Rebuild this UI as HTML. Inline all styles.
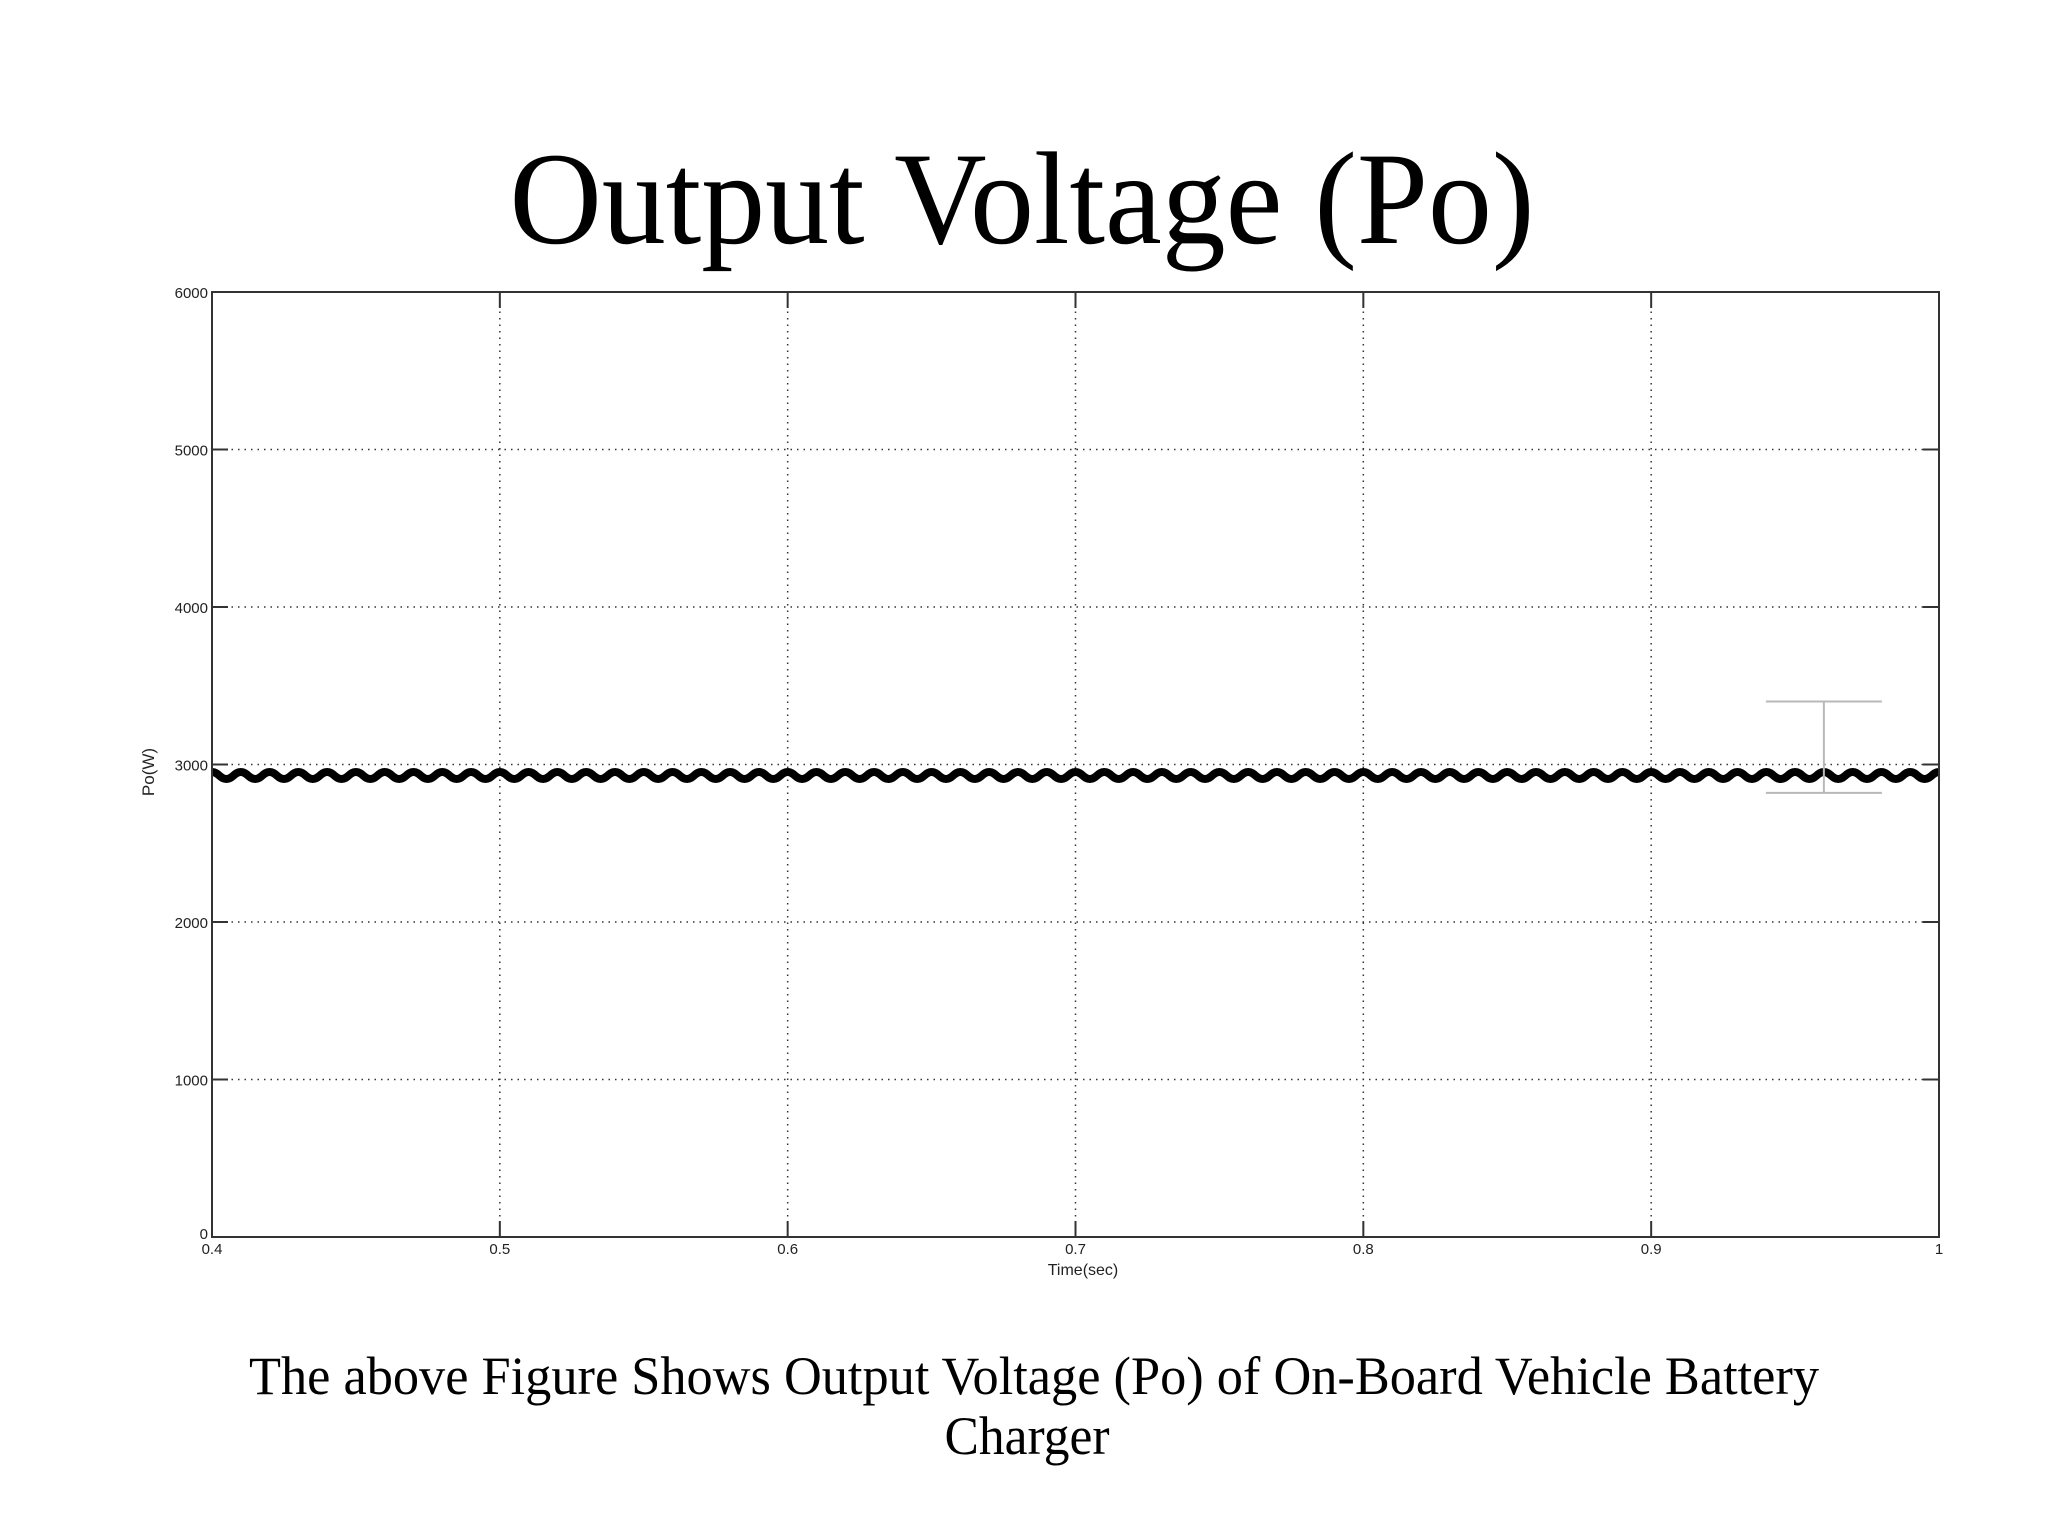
<!DOCTYPE html>
<html><head><meta charset="utf-8"><style>
html,body{margin:0;padding:0;background:#fff;}
svg{display:block;}
</style></head><body>
<svg id="chart" width="2048" height="1536" viewBox="0 0 2048 1536" xmlns="http://www.w3.org/2000/svg">
<text x="1022" y="243" font-family="Liberation Serif, serif" font-size="132" text-anchor="middle" textLength="1025" lengthAdjust="spacingAndGlyphs">Output Voltage (Po)</text>
<g id="plot"></g>
<text x="1034" y="1394" font-family="Liberation Serif, serif" font-size="54" text-anchor="middle" textLength="1570" lengthAdjust="spacingAndGlyphs">The above Figure Shows Output Voltage (Po) of  On-Board Vehicle Battery</text>
<text x="1027" y="1454" font-family="Liberation Serif, serif" font-size="54" text-anchor="middle" textLength="165" lengthAdjust="spacingAndGlyphs">Charger</text>
</svg>
<script>
const xTicks=[0.4,0.5,0.6,0.7,0.8,0.9,1];
const xTickLabels=["0.4","0.5","0.6","0.7","0.8","0.9","1"];
const yTicks=[0,1000,2000,3000,4000,5000,6000];
const yTickLabels=["0","1000","2000","3000","4000","5000","6000"];
const rippleStart=0.4;
const rippleStep=0.005;
const rippleValues=[2952,2908,2952,2908,2952,2908,2952,2908,2952,2908,2952,2908,2952,2908,2952,2908,2952,2908,2952,2908,
2952,2908,2952,2908,2952,2908,2952,2908,2952,2908,2952,2908,2952,2908,2952,2908,2952,2908,2952,2908,
2952,2908,2952,2908,2952,2908,2952,2908,2952,2908,2952,2908,2952,2908,2952,2908,2952,2908,2952,2908,
2952,2908,2952,2908,2952,2908,2952,2908,2952,2908,2952,2908,2952,2908,2952,2908,2952,2908,2952,2908,
2952,2908,2952,2908,2952,2908,2952,2908,2952,2908,2952,2908,2952,2908,2952,2908,2952,2908,2952,2908,
2952,2908,2952,2908,2952,2908,2952,2908,2952,2908,2952,2908,2952,2908,2952,2908,2952,2908,2952,2908,2952];
const cursorTime=[0.96];
const cursorLow=[2820];
const cursorHigh=[3400];

const L=212,R=1939,T=292,B=1237;
const sx=v=>L+(v-0.4)/(1-0.4)*(R-L);
const sy=v=>B-(v/6000)*(B-T);
const NS="http://www.w3.org/2000/svg";
const g=document.getElementById('plot');
function mk(tag,attrs){const e=document.createElementNS(NS,tag);for(const k in attrs)e.setAttribute(k,attrs[k]);g.appendChild(e);return e;}

xTicks.forEach((t,i)=>{
  if(i>0&&i<xTicks.length-1){
    const e=mk('line',{x1:sx(t),x2:sx(t),y1:T,y2:B,stroke:'#333','stroke-width':1.5,'stroke-dasharray':'1.5 5'});
    
    
  }
});
yTicks.forEach((t,i)=>{
  if(i>0&&i<yTicks.length-1){
    const e=mk('line',{x1:L,x2:R,y1:sy(t),y2:sy(t),stroke:'#333','stroke-width':1.5,'stroke-dasharray':'1.5 5'});
    
    
  }
});
let d='';
for(let i=0;i<rippleValues.length;i++){
  const x=sx(rippleStart+i*rippleStep),y=sy(rippleValues[i]);
  if(i===0){d+='M'+x+' '+y;}
  else{const xp=sx(rippleStart+(i-1)*rippleStep),yp=sy(rippleValues[i-1]);const h=(x-xp)/2;
    d+=' C'+(xp+h*0.9)+' '+yp+' '+(x-h*0.9)+' '+y+' '+x+' '+y;}
}
const cp=mk('clipPath',{id:'clip'});
const cr=document.createElementNS(NS,'rect');cr.setAttribute('x',L);cr.setAttribute('y',T);cr.setAttribute('width',R-L);cr.setAttribute('height',B-T);cp.appendChild(cr);
const s=mk('path',{d:d,fill:'none',stroke:'#000','stroke-width':8,'clip-path':'url(#clip)','stroke-linejoin':'round'});


cursorTime.forEach((t,i)=>{
  const x=sx(t),y1=sy(cursorHigh[i]),y2=sy(cursorLow[i]);
  const c=mk('path',{d:`M${x-58} ${y1}H${x+58}M${x} ${y1}V${y2}M${x-58} ${y2}H${x+58}`,stroke:'#b8b8b8','stroke-width':2,fill:'none'});
  
  
});
const box=mk('rect',{x:L,y:T,width:R-L,height:B-T,fill:'none',stroke:'#333','stroke-width':2});


xTicks.forEach((t,i)=>{
  const x=sx(t);
  const tk=mk('path',{d:`M${x} ${B}V${B-16}M${x} ${T}V${T+16}`,stroke:'#333','stroke-width':2});
  
  
  const lb=mk('text',{x:x,y:B+17,'font-family':'Liberation Sans, sans-serif','font-size':15,'text-anchor':'middle',fill:'#222'});
  lb.textContent=xTickLabels[i];
  
  
});
yTicks.forEach((t,i)=>{
  const y=sy(t);
  const tk=mk('path',{d:`M${L} ${y}H${L+16}M${R} ${y}H${R-16}`,stroke:'#333','stroke-width':2});
  
  
  const lb=mk('text',{x:L-4,y:i===0?y+2:y+6,'font-family':'Liberation Sans, sans-serif','font-size':15,'text-anchor':'end',fill:'#222'});
  lb.textContent=yTickLabels[i];
  
  
});
const xt=mk('text',{x:1083,y:1275,'font-family':'Liberation Sans, sans-serif','font-size':16,'text-anchor':'middle',fill:'#222'});
xt.textContent='Time(sec)';


const yt=mk('text',{x:0,y:0,transform:'translate(154,772) rotate(-90)','font-family':'Liberation Sans, sans-serif','font-size':17,'text-anchor':'middle',fill:'#222'});
yt.textContent='Po(W)';


</script>
</body></html>
